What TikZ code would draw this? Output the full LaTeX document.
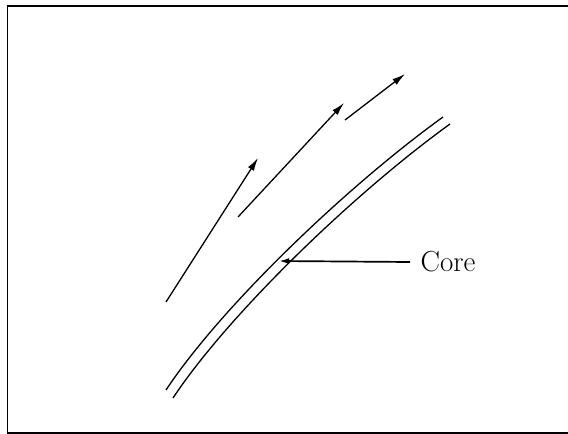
\documentclass[tikz,border=0pt]{standalone}
\usetikzlibrary{arrows.meta}
\begin{document}
\begin{tikzpicture}[x=1pt, y=-1pt, line width=1.3pt,
  flow/.style={-{Latex[length=13pt,width=7pt]}},
  pointer/.style={line width=1.7pt, -{Latex[length=10pt,width=6pt]}}]
  \useasboundingbox (0,0) rectangle (568,434);
  % frame
  \draw[line width=1.6pt] (575,6) -- (7.5,6) -- (7.5,433) -- (575,433);
  % core walls
  \draw (166,390) .. controls (221,307) and (346,187) .. (443,117);
  \draw (173,398) .. controls (228,315) and (353,194) .. (450,124);
  % flow arrows
  \coordinate (a1s) at (166,302);
  \coordinate (a1e) at (258,158);
  \coordinate (a2s) at (238,217);
  \coordinate (a2e) at (344,103);
  \coordinate (a3s) at (345,120);
  \coordinate (a3e) at (405,74);
  \draw[flow] (a1s) -- (a1e);
  \draw[flow] (a2s) -- (a2e);
  \draw[flow] (a3s) -- (a3e);
  % label
  \node[anchor=west, inner xsep=10pt, inner ysep=0pt, font=\fontsize{29}{34}\selectfont] (core) at (410,262) {Core};
  \coordinate (coretip) at (279,261);
  \draw[pointer] (core.west) -- (coretip);
\end{tikzpicture}
\end{document}
